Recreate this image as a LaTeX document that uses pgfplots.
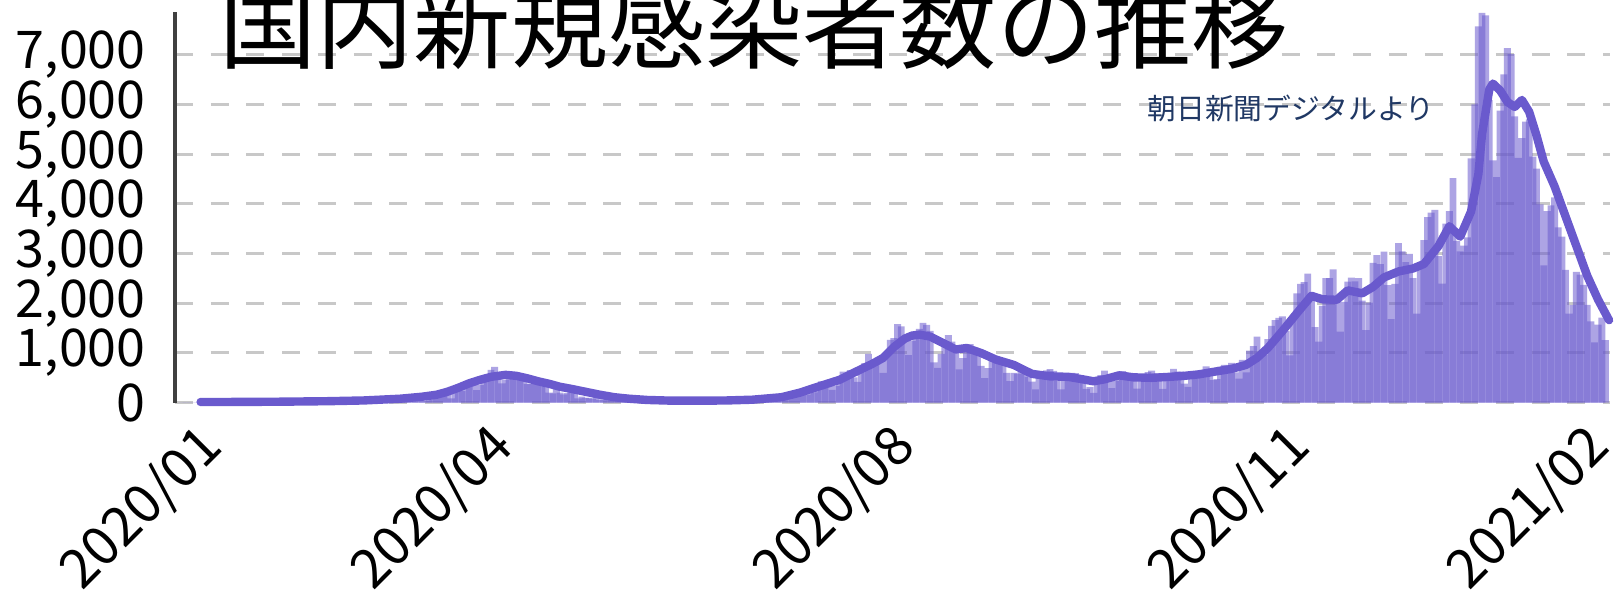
\documentclass[border=0pt]{standalone}
\usepackage{fontspec}
\newfontfamily\cjk{Noto Sans CJK JP}
\usepackage{pgfplots}
\usepackage{pgfplotstable}
\pgfplotsset{compat=1.18}

\definecolor{barcol}{HTML}{6A5ACD}
\definecolor{gridcol}{HTML}{C8C8C8}
\definecolor{notecol}{HTML}{203864}
\definecolor{axcol}{HTML}{404040}

% daily new cases, d = days since 2020-01-01
\pgfplotstableread[row sep=\\]{
d v\\
15 1\\ 16 0\\ 17 0\\ 18 0\\ 19 0\\ 20 0\\ 21 0\\ 22 0\\ 23 1\\ 24 1\\ 25 1\\ 26 0\\ 27 3\\ 28 1\\ 29 4\\ 30 3\\
31 2\\ 32 1\\ 33 0\\ 34 0\\ 35 3\\ 36 2\\ 37 0\\ 38 1\\ 39 0\\ 40 2\\ 41 1\\ 42 3\\ 43 4\\ 44 8\\ 45 12\\ 46 10\\ 47 6\\ 48 5\\ 49 4\\ 50 5\\ 51 6\\ 52 13\\ 53 12\\ 54 8\\ 55 12\\ 56 8\\ 57 14\\ 58 20\\ 59 9\\
60 14\\ 61 15\\ 62 14\\ 63 33\\ 64 35\\ 65 59\\ 66 47\\ 67 33\\ 68 26\\ 69 59\\ 70 52\\ 71 55\\ 72 41\\ 73 61\\ 74 63\\ 75 15\\ 76 41\\ 77 44\\ 78 39\\ 79 53\\ 80 35\\ 81 43\\ 82 39\\ 83 67\\ 84 95\\ 85 96\\ 86 112\\ 87 201\\ 88 173\\ 89 87\\ 90 225\\
91 266\\ 92 235\\ 93 351\\ 94 368\\ 95 383\\ 96 251\\ 97 351\\ 98 511\\ 99 576\\ 100 660\\ 101 720\\ 102 505\\ 103 391\\ 104 457\\ 105 548\\ 106 587\\ 107 584\\ 108 577\\ 109 563\\ 110 372\\ 111 384\\ 112 450\\ 113 439\\ 114 425\\ 115 363\\ 116 203\\ 117 185\\ 118 281\\ 119 203\\ 120 165\\
121 193\\ 122 303\\ 123 201\\ 124 87\\ 125 123\\ 126 96\\ 127 95\\ 128 83\\ 129 113\\ 130 56\\ 131 69\\ 132 76\\ 133 55\\ 134 99\\ 135 46\\ 136 58\\ 137 16\\ 138 31\\ 139 31\\ 140 25\\ 141 36\\ 142 23\\ 143 26\\ 144 14\\ 145 21\\ 146 28\\ 147 41\\ 148 29\\ 149 44\\ 150 33\\ 151 47\\
152 36\\ 153 51\\ 154 39\\ 155 50\\ 156 34\\ 157 48\\ 158 45\\ 159 14\\ 160 43\\ 161 47\\ 162 44\\ 163 45\\ 164 44\\ 165 73\\ 166 23\\ 167 46\\ 168 43\\ 169 67\\ 170 41\\ 171 36\\ 172 64\\ 173 58\\ 174 59\\ 175 51\\ 176 96\\ 177 105\\ 178 92\\ 179 110\\ 180 86\\ 181 129\\
182 127\\ 183 196\\ 184 250\\ 185 274\\ 186 209\\ 187 160\\ 188 207\\ 189 206\\ 190 355\\ 191 430\\ 192 385\\ 193 408\\ 194 258\\ 195 335\\ 196 453\\ 197 623\\ 198 595\\ 199 657\\ 200 509\\ 201 420\\ 202 631\\ 203 795\\ 204 981\\ 205 779\\ 206 837\\ 207 915\\ 208 598\\ 209 981\\ 210 1264\\ 211 1301\\ 212 1580\\
213 1536\\ 214 1331\\ 215 959\\ 216 1242\\ 217 1357\\ 218 1485\\ 219 1605\\ 220 1565\\ 221 1445\\ 222 813\\ 223 700\\ 224 984\\ 225 1176\\ 226 1360\\ 227 1227\\ 228 1011\\ 229 669\\ 230 898\\ 231 1069\\ 232 1180\\ 233 1034\\ 234 1002\\ 235 741\\ 236 496\\ 237 697\\ 238 867\\ 239 804\\ 240 887\\ 241 812\\ 242 600\\ 243 435\\
244 599\\ 245 587\\ 246 634\\ 247 591\\ 248 520\\ 249 423\\ 250 269\\ 251 509\\ 252 510\\ 253 649\\ 254 675\\ 255 641\\ 256 438\\ 257 269\\ 258 509\\ 259 545\\ 260 598\\ 261 595\\ 262 512\\ 263 529\\ 264 276\\ 265 315\\ 266 195\\ 267 482\\ 268 552\\ 269 645\\ 270 480\\ 271 295\\ 272 436\\ 273 617\\
274 637\\ 275 560\\ 276 577\\ 277 453\\ 278 283\\ 279 511\\ 280 536\\ 281 617\\ 282 643\\ 283 590\\ 284 466\\ 285 279\\ 286 452\\ 287 584\\ 288 678\\ 289 625\\ 290 624\\ 291 384\\ 292 317\\ 293 479\\ 294 616\\ 295 627\\ 296 605\\ 297 733\\ 298 547\\ 299 455\\ 300 473\\ 301 722\\ 302 761\\ 303 747\\ 304 803\\
305 612\\ 306 486\\ 307 862\\ 308 612\\ 309 1046\\ 310 1139\\ 311 1330\\ 312 1010\\ 313 958\\ 314 1278\\ 315 1547\\ 316 1661\\ 317 1704\\ 318 1735\\ 319 1438\\ 320 951\\ 321 1699\\ 322 2201\\ 323 2388\\ 324 2425\\ 325 2596\\ 326 2168\\ 327 1521\\ 328 1228\\ 329 1947\\ 330 2505\\ 331 2506\\ 332 2684\\ 333 2068\\ 334 1430\\
335 2030\\ 336 2433\\ 337 2518\\ 338 2442\\ 339 2507\\ 340 2054\\ 341 1458\\ 342 2012\\ 343 2811\\ 344 2971\\ 345 2786\\ 346 3041\\ 347 2364\\ 348 1682\\ 349 2390\\ 350 3211\\ 351 3044\\ 352 2826\\ 353 2994\\ 354 2504\\ 355 1790\\ 356 2701\\ 357 3270\\ 358 3733\\ 359 3823\\ 360 3881\\ 361 2947\\ 362 2395\\ 363 3604\\ 364 3852\\ 365 4520\\
366 3257\\ 367 3045\\ 368 3158\\ 369 3325\\ 370 4915\\ 371 6001\\ 372 7570\\ 373 7844\\ 374 7790\\ 375 6094\\ 376 4876\\ 377 4536\\ 378 5875\\ 379 6605\\ 380 7133\\ 381 7014\\ 382 5759\\ 383 4925\\ 384 5320\\ 385 5654\\ 386 5701\\ 387 4949\\ 388 4711\\ 389 3990\\ 390 2762\\ 391 3852\\ 392 3970\\ 393 4131\\ 394 3528\\ 395 3342\\ 396 2673\\
397 1792\\ 398 1964\\ 399 2631\\ 400 2576\\ 401 2369\\ 402 1967\\ 403 1637\\ 404 1215\\ 405 1569\\ 406 1711\\ 407 1261\\
}\cases

\begin{document}
\begin{tikzpicture}
\path (0pt,0pt) rectangle (808.5pt,298.5pt);
\begin{axis}[
	at={(87.5pt,97.15pt)}, anchor=south west,
	scale only axis, width=717.5pt, height=195.35pt,
	xmin=12.948, xmax=408.26, ymin=0, ymax=7860,
	axis lines*=left,
	x axis line style={draw=none},
	y axis line style={line width=2pt, color=axcol},
	major tick length=0pt,
	ytick={0,1000,2000,3000,4000,5000,6000,7000},
	yticklabels={0,{1,000},{2,000},{3,000},{4,000},{5,000},{6,000},{7,000}},
	yticklabel style={font=\cjk\fontsize{26pt}{30pt}\selectfont, anchor=east, inner sep=0pt, xshift=-14.5pt},
	xtick={23.4,103.6,214.3,323.1,405.5},
	xticklabels={2020/01,2020/04,2020/08,2020/11,2021/02},
	xticklabel style={overlay, font=\cjk\fontsize{27pt}{31pt}\selectfont, rotate=45, anchor=east, inner sep=0pt},
	xticklabel shift=17.5pt,
	ymajorgrids,
	grid style={gridcol, line width=1.5pt, dash pattern=on 9pt off 8.85pt},
	clip=false,
]
% bars are twice as wide as a day and see-through: even and odd days overlap
\addplot[ybar, bar width=1.9, fill=barcol, fill opacity=0.55, draw=none,
	x filter/.expression={mod(x,2)<0.5 ? x : nan}] table[x=d, y=v] {\cases};
\addplot[ybar, bar width=1.9, fill=barcol, fill opacity=0.55, draw=none,
	x filter/.expression={mod(x,2)>0.5 ? x : nan}] table[x=d, y=v] {\cases};
% 7-day average
\addplot[barcol, line width=4.2pt, line join=round, line cap=round, no marks] coordinates {
(20,14)(30,15)(42,20)(55,30)(65,45)(75,80)(81,120)(85,160)(88,220)(91,300)(94,390)(97,460)(100,520)(104,560)(107,540)(110,490)(113,430)(116,380)(119,320)(122,280)(126,220)(130,160)(134,110)(138,80)(143,55)(150,40)(158,40)(165,45)(172,60)(176,85)(180,110)
(185,200)(190,320)(196,460)(201,640)(205,780)(208,900)(211,1120)(214,1290)(216,1350)(218,1370)(221,1330)(224,1220)(228,1070)(231,1100)(235,1000)(239,870)(244,760)(249,580)(254,530)(259,520)(263,470)(266,430)(269,470)(273,550)(277,510)(282,500)(287,520)(291,540)(295,570)(299,620)(304,680)
(308,760)(311,900)(314,1100)(318,1440)(322,1800)(326,2150)(329,2080)(333,2070)(336,2260)(340,2200)(343,2330)(346,2520)(350,2640)(354,2700)(357,2790)(361,3150)(364,3550)(367,3340)(370,3850)(372,4600)(373,5400)(375,6300)(376,6420)(378,6280)(380,6050)(382,5950)(384,6090)(386,5850)(388,5380)(390,4850)(393,4350)(396,3750)(399,3150)(402,2550)(405,2070)(408,1660)
};
\end{axis}
\node[overlay, anchor=base west, inner sep=0pt, font=\cjk\fontsize{48.6pt}{55pt}\selectfont] at (109.5pt,267.5pt) {国内新規感染者数の推移};
\node[anchor=center, inner sep=0pt, text=notecol, font=\cjk\fontsize{14.4pt}{16pt}\selectfont] at (645.5pt,244.5pt) {朝日新聞デジタルより};
\end{tikzpicture}
\end{document}
